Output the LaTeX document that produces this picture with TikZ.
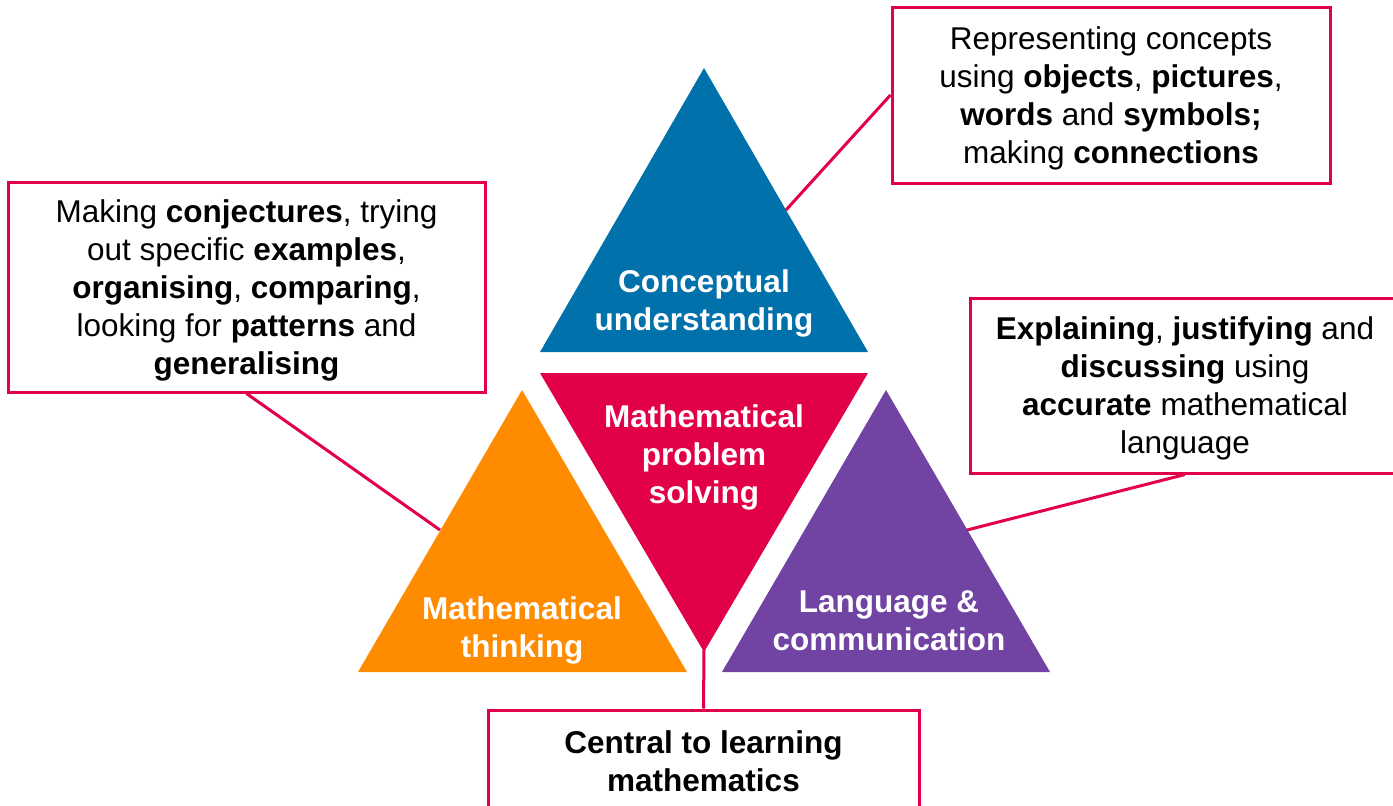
\documentclass[tikz,border=0pt]{standalone}
\usepackage{fontspec}
\setmainfont{Liberation Sans}
\definecolor{cblue}{RGB}{0,113,170}
\definecolor{cred}{RGB}{226,0,72}
\definecolor{corange}{RGB}{255,140,0}
\definecolor{cpurple}{RGB}{113,68,163}
\begin{document}
\begin{tikzpicture}[x=1pt,y=-1pt,
  box/.style={draw=cred, line width=3pt, fill=white, align=center,
    font=\fontsize{31.5}{38}\selectfont, inner sep=0pt, text depth=0pt},
  tlabel/.style={text=white, align=center, font=\fontsize{31.5}{38}\selectfont\bfseries, text depth=0pt},
  link/.style={draw=cred, line width=3pt}]
\useasboundingbox (0,0) rectangle (1393,806);
% triangles
\fill[cblue] (704,68) -- (868,352) -- (540,352) -- cycle;
\fill[cred] (540,373) -- (868,373) -- (704,652) -- cycle;
\fill[corange] (522,390) -- (687,672) -- (358,672) -- cycle;
\fill[cpurple] (886,390) -- (1050,672) -- (722,672) -- cycle;
% triangle labels
\node[tlabel] (tc) at (704,300) {Conceptual\\understanding};
\node[tlabel] (tp) at (704,454) {Mathematical\\problem\\solving};
\node[tlabel] (tm) at (522,627) {Mathematical\\thinking};
\node[tlabel] (tl) at (889,621) {Language \&\\communication};
% anchor coordinates on triangles
\coordinate (cb) at (786,210);
\coordinate (co) at (440,530);
\coordinate (cp) at (967,530);
\coordinate (cr) at (704,650);
% boxes
\node[box, minimum width=438pt, minimum height=176pt] (tr) at (1111,95)
  {Representing concepts\\using \textbf{objects}, \textbf{pictures},\\\textbf{words} and \textbf{symbols;}\\making \textbf{connections}};
\node[box, minimum width=477pt, minimum height=210pt] (lb) at (246.5,287)
  {Making \textbf{conjectures}, trying\\out specific \textbf{examples},\\\textbf{organising}, \textbf{comparing},\\looking for \textbf{patterns} and\\\textbf{generalising}};
\node[box, minimum width=430pt, minimum height=175pt] (rb) at (1185,385.5)
  {\textbf{Explaining}, \textbf{justifying} and\\\textbf{discussing} using\\\textbf{accurate} mathematical\\language};
\node[box, minimum width=431pt, minimum height=102pt] (bb) at (703.5,761)
  {\textbf{Central to learning}\\\textbf{mathematics}};
% connectors
\draw[link] (cb) -- (tr.west);
\draw[link] (co) -- (lb.south);
\draw[link] (cp) -- (rb.south);
\draw[link] (cr) -- (bb.north);
\end{tikzpicture}
\end{document}
